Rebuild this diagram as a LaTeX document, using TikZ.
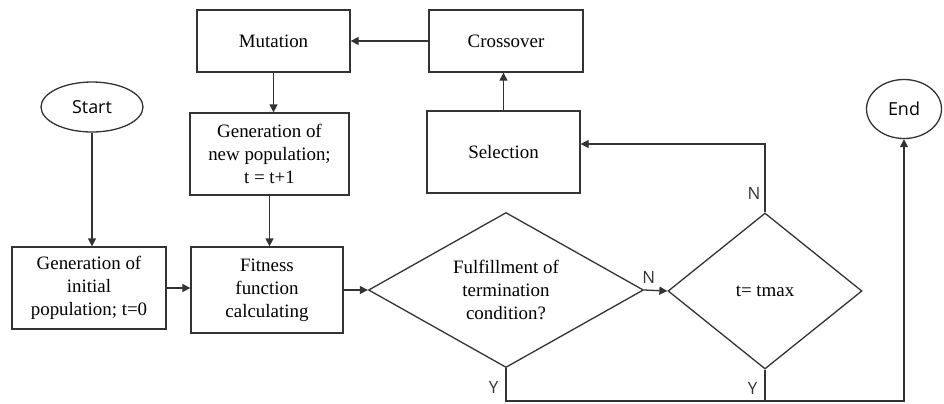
\documentclass[tikz,border=0pt]{standalone}
\usepackage{fontspec}
\setmainfont{Liberation Serif}
\newfontfamily\labelfont{Open Sans}
\usetikzlibrary{arrows.meta,shapes.geometric}
\definecolor{linecol}{HTML}{333333}
\tikzset{
  box/.style={draw=linecol, line width=1.3bp, rectangle, align=center, inner sep=0pt,
    font=\fontsize{19}{23}\selectfont},
  term/.style={draw=linecol, line width=1.3bp, ellipse, inner sep=0pt,
    font=\labelfont\fontsize{18}{22}\selectfont},
  decision/.style={draw=linecol, line width=1.3bp, diamond, align=center, inner sep=0pt,
    font=\fontsize{19}{23}\selectfont},
  arr/.style={draw=linecol, line width=1.3bp, -{Triangle[length=8bp,width=8bp]}},
  plain/.style={draw=linecol, line width=1.3bp},
  yn/.style={font=\labelfont\fontsize{17}{20}\selectfont, text=linecol, inner sep=0pt}
}
\begin{document}
\begin{tikzpicture}[x=1bp,y=-1bp]
\useasboundingbox (0,0) rectangle (944,403);

% top row
\node[box, minimum width=153bp, minimum height=62bp] (mut) at (273.5,41) {Mutation};
\node[box, minimum width=154bp, minimum height=62bp] (cross) at (506,41) {Crossover};

% middle row
\node[term, minimum width=102bp, minimum height=50bp] (start) at (92,107) {Start};
\node[box, minimum width=159bp, minimum height=82bp] (gennew) at (269.5,154)
  {Generation of\\new population;\\t = t+1};
\node[box, minimum width=153bp, minimum height=82bp] (sel) at (503.5,152) {Selection};
\node[term, minimum width=75bp, minimum height=59bp] (end) at (904,109) {End};

% bottom row
\node[box, minimum width=154bp, minimum height=82bp] (init) at (89,288)
  {Generation of\\initial\\population; t=0};
\node[box, minimum width=152bp, minimum height=86bp] (fit) at (267,290)
  {Fitness\\function\\calculating};
\node[decision, shape aspect=1.77, minimum width=275bp, minimum height=155bp] (cond) at (506,290)
  {Fulfillment of\\termination\\condition?};
\node[decision, minimum width=194bp, minimum height=156bp] (tmax) at (765,291) {t= tmax};

\coordinate (yline) at (0,401);

% connectors
\draw[arr] (cross) -- (mut);
\draw[arr] (mut.south) -- (mut.south |- gennew.north);
\draw[arr] (sel) -- (cross.south -| sel);
\draw[arr] (start) -- (start |- init.north);
\draw[arr] (gennew.south) -- (gennew.south |- fit.north);
\draw[arr] (init.east) -- (init.east -| fit.west);
\draw[arr] (fit.east) -- (cond.west);
\draw[arr] (cond.east) -- node[yn, above=6bp, pos=0.2] {N} (tmax.west);
\draw[arr] (tmax.north) |- node[yn, left=4bp, pos=0.14] {N} ([yshift=8bp]sel.east);
\draw[arr] (cond.south) -- node[yn, left=7bp, pos=0.6] {Y} (cond.south |- yline) -| (end.south);
\draw[plain] (tmax.south) -- node[yn, left=7bp, pos=0.6] {Y} (tmax.south |- yline);
\end{tikzpicture}
\end{document}
